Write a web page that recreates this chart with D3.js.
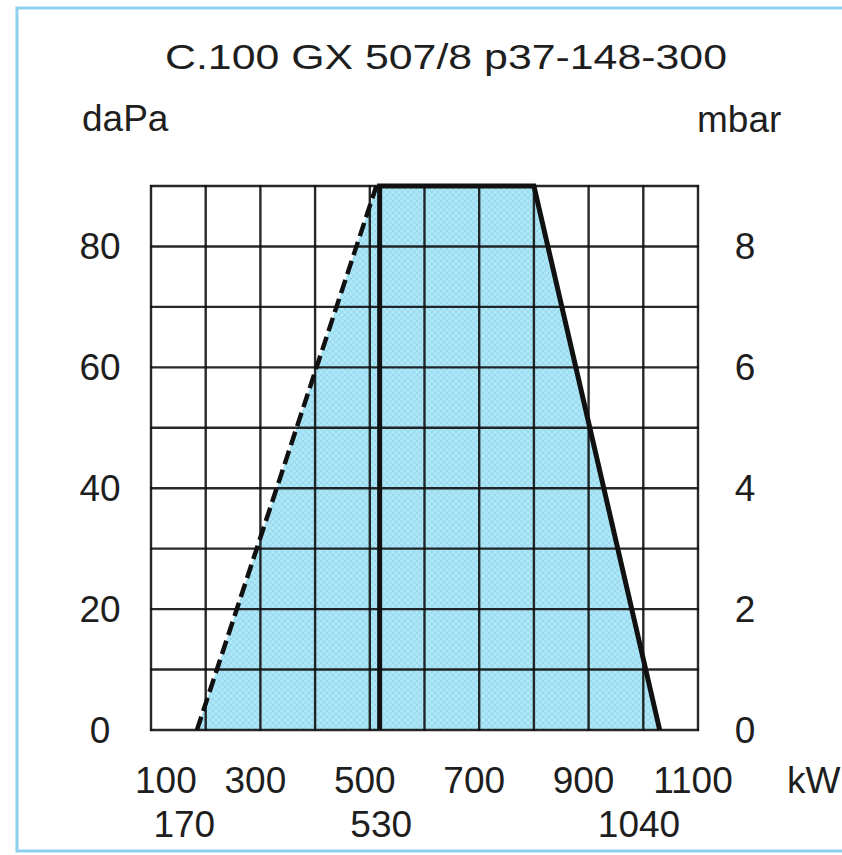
<!DOCTYPE html>
<html>
<head>
<meta charset="utf-8">
<script src="https://cdn.jsdelivr.net/npm/d3@7"></script>
<style>
  html, body { margin: 0; padding: 0; background: #ffffff; }
  svg { display: block; }
  text { font-family: "Liberation Sans", Arial, Helvetica, sans-serif; fill: #1e1e1e; }
</style>
</head>
<body>
<svg id="chart" width="842" height="855"></svg>
<script>
// ---- data ----
const title = "C.100 GX 507/8 p37-148-300";
const leftUnit = "daPa";
const rightUnit = "mbar";
const xUnit = "kW";

const xTicksTop = [100, 300, 500, 700, 900, 1100];
const xTicksBottom = [170, 530, 1040];
const yTicksLeft = [0, 20, 40, 60, 80];        // daPa
const yTicksRight = [0, 2, 4, 6, 8];           // mbar
const gridX = [100, 200, 300, 400, 500, 600, 700, 800, 900, 1000, 1100];
const gridY = [0, 10, 20, 30, 40, 50, 60, 70, 80, 90];

// working field (kW, daPa)
const fieldKW = [184, 512, 800, 1030];
const fieldP  = [0, 90, 90, 0];
// dashed (start) limit
const dashedKW = [184, 512];
const dashedP  = [0, 90];
// solid limit
const solidKW = [518, 518, 800, 1030];
const solidP  = [0, 90, 90, 0];

// ---- layout ----
const svg = d3.select("#chart");
const L = 151, R = 698, T = 186, B = 730;

const x = d3.scaleLinear().domain([100, 1100]).range([L, R]);
const y = d3.scaleLinear().domain([0, 90]).range([B, T]);
const yR = d3.scaleLinear().domain([0, 9]).range([B, T]);

// frame
svg.append("rect")
  .attr("x", 17).attr("y", 8).attr("width", 900).attr("height", 843)
  .attr("fill", "none").attr("stroke", "#8ccfee").attr("stroke-width", 3);

// hatch pattern for the field
const defs = svg.append("defs");
const pat = defs.append("pattern")
  .attr("id", "hatch").attr("patternUnits", "userSpaceOnUse")
  .attr("width", 6).attr("height", 6);
pat.append("rect").attr("width", 6).attr("height", 6).attr("fill", "#ade7f7");
pat.append("path").attr("d", "M0,0 L6,6 M6,0 L0,6")
  .attr("stroke", "#98d8ec").attr("stroke-width", 1);

// field polygon
const pts = fieldKW.map((k, i) => [x(k), y(fieldP[i])]);
svg.append("path")
  .attr("d", d3.line()(pts) + "Z")
  .attr("fill", "url(#hatch)");

// grid
svg.append("g").selectAll("line").data(gridX).join("line")
  .attr("x1", d => x(d)).attr("x2", d => x(d))
  .attr("y1", y(0) + 1).attr("y2", y(90) - 1)
  .attr("stroke", "#111").attr("stroke-opacity", 0.9).attr("stroke-width", 2.4);
svg.append("g").selectAll("line").data(gridY).join("line")
  .attr("x1", x(100) - 1).attr("x2", x(1100) + 1)
  .attr("y1", d => y(d)).attr("y2", d => y(d))
  .attr("stroke", "#111").attr("stroke-opacity", 0.9).attr("stroke-width", 2.4);

// dashed limit
svg.append("path")
  .attr("d", d3.line()(dashedKW.map((k, i) => [x(k), y(dashedP[i])])))
  .attr("fill", "none").attr("stroke", "#111").attr("stroke-width", 4.5)
  .attr("stroke-dasharray", "14,6");

// solid limit
svg.append("path")
  .attr("d", d3.line()(solidKW.map((k, i) => [x(k), y(solidP[i])])))
  .attr("fill", "none").attr("stroke", "#111").attr("stroke-width", 5)
  .attr("stroke-linejoin", "miter");

// title
svg.append("text")
  .attr("x", 165).attr("y", 69)
  .attr("font-size", 35)
  .attr("textLength", 562).attr("lengthAdjust", "spacingAndGlyphs")
  .text(title);

// unit labels
svg.append("text").attr("x", 82).attr("y", 131).attr("font-size", 37).text(leftUnit);
svg.append("text").attr("x", 697).attr("y", 132).attr("font-size", 37).text(rightUnit);

// left tick labels
svg.append("g").selectAll("text").data(yTicksLeft).join("text")
  .attr("x", 100).attr("y", d => y(d) + 13)
  .attr("text-anchor", "middle").attr("font-size", 37)
  .text(d => d);

// right tick labels
svg.append("g").selectAll("text").data(yTicksRight).join("text")
  .attr("x", 745).attr("y", d => yR(d) + 13)
  .attr("text-anchor", "middle").attr("font-size", 37)
  .text(d => d);

// bottom tick labels, first row
svg.append("g").selectAll("text").data(xTicksTop).join("text")
  .attr("x", (d, i) => i === 0 ? x(d) - 16 : x(d) - 5)
  .attr("y", 793)
  .attr("text-anchor", (d, i) => i === 0 ? "start" : "middle")
  .attr("font-size", 37)
  .text(d => d);

// bottom tick labels, second row
svg.append("g").selectAll("text").data(xTicksBottom).join("text")
  .attr("x", (d, i) => i === xTicksBottom.length - 1 ? x(d) + 15 : x(d) - 5)
  .attr("y", 837)
  .attr("text-anchor", (d, i) => i === xTicksBottom.length - 1 ? "end" : "middle")
  .attr("font-size", 37)
  .text(d => d);

// kW unit
svg.append("text").attr("x", 787).attr("y", 793).attr("font-size", 37).text(xUnit);
</script>
</body>
</html>
